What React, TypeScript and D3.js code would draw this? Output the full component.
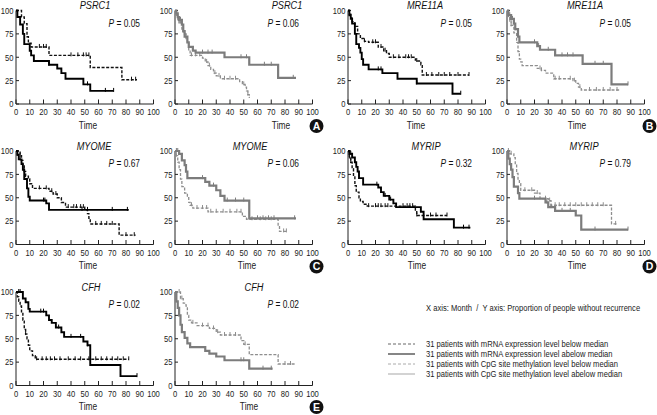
import React from "react";
import * as d3 from "d3";

type Pt = [number, number];

// ---------- DATA ----------
const genes = ["PSRC1", "PSRC1", "MRE11A", "MRE11A", "MYOME", "MYOME", "MYRIP", "MYRIP", "CFH", "CFH"];
const pValues = ["0.05", "0.06", "0.05", "0.05", "0.67", "0.06", "0.32", "0.79", "0.02", "0.02"];
const panelKinds = ["mrna", "meth", "mrna", "meth", "mrna", "meth", "mrna", "meth", "mrna", "meth"];
const panelLetters = ["A", "B", "C", "D", "E"];
const xTicks = [0, 10, 20, 30, 40, 50, 60, 70, 80, 90, 100];
const yTicks = [0, 25, 50, 75, 100];
const axisLabel = "Time";
const legendHeader = "X axis: Month  /  Y axis: Proportion of people without recurrence";
const legendLabels = [
  "31 patients with mRNA expression level below median",
  "31 patients with mRNA expression level abelow median",
  "31 patients with CpG site methylation level below median",
  "31 patients with CpG site methylation level abelow median",
];

// PSRC1 mRNA
const psrc1MrnaLow: Pt[] = [[0,100],[4,93],[6,86],[8,72],[9,65],[11,61],[24,52],[54,39],[77,26],[88,26]];
const psrc1MrnaLowCens = [17, 20, 22, 40, 45, 49, 51, 53, 84, 87];
const psrc1MrnaHigh: Pt[] = [[0,100],[1,93],[3,85],[5,75],[6,64],[10,57],[11,52],[13,46],[24,42],[30,38],[33,33],[36,27],[49,21],[54,14],[71,14]];
const psrc1MrnaHighCens = [24, 52, 65, 71];
// PSRC1 methylation
const psrc1MethLow: Pt[] = [[0,100],[1,95],[2,90],[3,87],[5,80],[6,75],[8,70],[9,65],[10,58],[11,52],[20,49],[22,45],[24,41],[26,37],[28,33],[30,30],[33,27],[47,24],[49,21],[51,18],[52,14],[53,10],[54,7],[54.5,7]];
const psrc1MethLowCens = [1, 3, 4, 7, 12, 15, 18, 23, 25, 29, 32, 36, 40, 44, 50, 53];
const psrc1MethHigh: Pt[] = [[0,100],[1,97],[2,93],[3,90],[5,85],[6,78],[7,72],[9,66],[10,61],[13,57],[15,55],[36,50],[54,42],[75,28],[88,28]];
const psrc1MethHighCens = [2, 4, 6, 8, 20, 24, 27, 48, 52, 65, 70, 86];
// MRE11A mRNA
const mre11aMrnaLow: Pt[] = [[0,100],[1,96],[2,92],[3,88],[5,83],[7,75],[9,70],[12,67],[15,66],[22,61],[26,57],[28,54],[30,50],[49,47],[50,46],[53,42],[54,31],[88,31]];
const mre11aMrnaLowCens = [12, 18, 20, 24, 27, 33, 37, 42, 44, 46, 50, 57, 61, 66, 70, 74, 80, 88];
const mre11aMrnaHigh: Pt[] = [[0,100],[1,95],[2,91],[3,86],[5,75],[6,64],[8,60],[9,55],[10,48],[11,42],[15,37],[25,33],[36,27],[50,22],[76,11],[82,11]];
const mre11aMrnaHighCens = [22, 24, 50, 82];
// MRE11A methylation
const mre11aMethLow: Pt[] = [[0,100],[1,94],[2,89],[3,84],[5,76],[7,66],[8,56],[9,48],[10,45],[11,41],[22,38],[25,36],[28,33],[34,27],[48,25],[50,22],[52,18],[54,15],[82,15]];
const mre11aMethLowCens = [1, 2, 3, 24, 25, 35, 38, 46, 49, 53, 60, 65, 70, 75, 80];
const mre11aMethHigh: Pt[] = [[0,100],[1,95],[3,91],[5,86],[6,80],[8,72],[9,66],[22,62],[24,58],[35,52],[55,43],[76,21],[88,21]];
const mre11aMethHighCens = [1, 2, 4, 6, 20, 23, 30, 40, 44, 48, 64, 70, 88];
// MYOME mRNA
const myomeMrnaLow: Pt[] = [[0,100],[3,95],[4,90],[5,84],[6,78],[7,73],[9,70],[10,65],[12,60],[24,57],[27,54],[30,50],[33,45],[36,40],[50,37],[52,33],[53,28],[54,22],[75,10],[87,10]];
const myomeMrnaLowCens = [3, 17, 22, 26, 29, 38, 42, 44, 47, 49, 58, 62, 66, 70, 80, 86];
const myomeMrnaHigh: Pt[] = [[0,100],[1,96],[2,91],[4,86],[5,80],[6,70],[8,60],[9,51],[10,47],[22,44],[24,37],[82,37]];
const myomeMrnaHighCens = [1, 3, 20, 21, 48, 52, 70, 81];
// MYOME methylation
const myomeMethLow: Pt[] = [[0,100],[1,95],[2,88],[3,80],[4,70],[5,62],[7,55],[9,50],[10,45],[11,42],[13,39],[24,35],[49,30],[52,27],[75,20],[76,14],[81,14]];
const myomeMethLowCens = [1, 12, 16, 20, 23, 26, 30, 35, 40, 45, 48, 56, 62, 66, 70, 79, 81];
const myomeMethHigh: Pt[] = [[0,100],[3,97],[5,90],[7,85],[8,78],[9,71],[22,67],[25,63],[30,58],[33,52],[36,47],[54,28],[88,28]];
const myomeMethHighCens = [1, 2, 20, 28, 38, 44, 50, 60, 64, 68, 72, 87];
// MYRIP mRNA
const myripMrnaLow: Pt[] = [[0,100],[1,93],[2,88],[3,81],[4,73],[5,63],[6,56],[8,50],[9,46],[11,43],[14,41],[49,36],[50,31],[72,31]];
const myripMrnaLowCens = [1, 2, 15, 20, 22, 24, 27, 29, 40, 43, 45, 47, 50, 60, 64, 72];
const myripMrnaHigh: Pt[] = [[0,100],[1,97],[3,93],[5,88],[6,83],[7,78],[8,71],[11,64],[22,61],[24,56],[26,52],[30,48],[33,44],[35,40],[53,35],[55,27],[77,18],[89,18]];
const myripMrnaHighCens = [1, 2, 21, 27, 31, 84, 88];
// MYRIP methylation
const myripMethLow: Pt[] = [[0,100],[2,97],[5,93],[6,85],[7,76],[8,70],[9,65],[10,58],[20,55],[24,49],[30,47],[32,42],[76,22],[80,22]];
const myripMethLowCens = [1, 3, 13, 18, 22, 28, 31, 35, 38, 42, 46, 50, 54, 58, 62, 66, 70, 79];
const myripMethHigh: Pt[] = [[0,100],[1,92],[2,86],[3,80],[4,72],[5,62],[8,55],[9,49],[28,45],[30,40],[35,36],[50,31],[54,16],[88,16]];
const myripMethHighCens = [1, 20, 29, 32, 40, 46, 64, 88];
// CFH mRNA
const cfhMrnaLow: Pt[] = [[0,100],[1,95],[2,90],[3,85],[4,78],[5,70],[6,60],[7,55],[8,50],[9,43],[10,37],[12,32],[14,28],[82,28]];
const cfhMrnaLowCens = [7, 15, 19, 22, 25, 28, 32, 38, 43, 47, 53, 58, 62, 66, 70, 74, 78, 82];
const cfhMrnaHigh: Pt[] = [[0,100],[5,93],[7,89],[9,82],[10,79],[22,75],[24,70],[26,67],[29,62],[33,57],[35,52],[49,47],[52,43],[54,22],[76,10],[88,10]];
const cfhMrnaHighCens = [2, 3, 18, 20, 31, 40, 47, 52, 88];
// CFH methylation
const cfhMethLow: Pt[] = [[0,100],[4,93],[6,88],[8,85],[9,75],[10,70],[12,67],[16,64],[25,61],[30,57],[33,54],[48,48],[50,44],[54,33],[75,23],[88,23]];
const cfhMethLowCens = [3, 5, 13, 20, 24, 28, 31, 36, 40, 44, 51, 80, 84];
const cfhMethHigh: Pt[] = [[0,100],[1,90],[2,83],[3,75],[4,65],[5,57],[7,51],[9,45],[11,41],[22,37],[25,34],[30,31],[36,27],[54,18],[71,18]];
const cfhMethHighCens = [1, 48, 50, 64, 70];

const lowCurves = [psrc1MrnaLow, psrc1MethLow, mre11aMrnaLow, mre11aMethLow, myomeMrnaLow, myomeMethLow, myripMrnaLow, myripMethLow, cfhMrnaLow, cfhMethLow];
const lowCens = [psrc1MrnaLowCens, psrc1MethLowCens, mre11aMrnaLowCens, mre11aMethLowCens, myomeMrnaLowCens, myomeMethLowCens, myripMrnaLowCens, myripMethLowCens, cfhMrnaLowCens, cfhMethLowCens];
const highCurves = [psrc1MrnaHigh, psrc1MethHigh, mre11aMrnaHigh, mre11aMethHigh, myomeMrnaHigh, myomeMethHigh, myripMrnaHigh, myripMethHigh, cfhMrnaHigh, cfhMethHigh];
const highCens = [psrc1MrnaHighCens, psrc1MethHighCens, mre11aMrnaHighCens, mre11aMethHighCens, myomeMrnaHighCens, myomeMethHighCens, myripMrnaHighCens, myripMethHighCens, cfhMrnaHighCens, cfhMethHighCens];

// ---------- LAYOUT ----------
const W = 657;
const H = 415;
const colX = [16, 175, 348, 507];
const rowTop = [10.5, 151, 292];
const plotW = 137.5;
const plotH = 93.5;
const titleDx = [79, 112, 77, 78, 78, 75, 78, 77, 75, 79];
const timeDx = [72, 106, 68, 70, 72, 72, 69, 70, 72, 74];
const letterPos: Pt[] = [[316.5, 126], [649.5, 126], [316.5, 266.5], [649.5, 266.5], [316.5, 407]];
const FONT = "'Liberation Sans', Arial, sans-serif";
const NARROW = 0.8;

const styles: Record<string, { low: any; high: any }> = {
  mrna: {
    low: { stroke: "#111", width: 1.4, dash: "3,1.6" },
    high: { stroke: "#000", width: 1.9, dash: null },
  },
  meth: {
    low: { stroke: "#8e8e8e", width: 1.3, dash: "3,1.6" },
    high: { stroke: "#7c7c7c", width: 2.2, dash: null },
  },
};

const legendStyles = [
  { stroke: "#666", width: 1, dash: "3,2" },
  { stroke: "#444", width: 1.3, dash: null },
  { stroke: "#aaa", width: 1, dash: "3,2" },
  { stroke: "#bbb", width: 1.3, dash: null },
];

function survAt(curve: Pt[], t: number): number {
  let s = curve[0][1];
  for (const p of curve) if (p[0] <= t) s = p[1];
  return s;
}

function NText(props: {
  x: number;
  y: number;
  size: number;
  anchor?: string;
  italic?: boolean;
  fill?: string;
  children: React.ReactNode;
}) {
  return (
    <g transform={`translate(${props.x},${props.y}) scale(${NARROW},1)`}>
      <text
        x={0}
        y={0}
        fontSize={props.size}
        textAnchor={props.anchor || "start"}
        fontStyle={props.italic ? "italic" : "normal"}
        fontFamily={FONT}
        fill={props.fill || "#222"}
        style={{ whiteSpace: "pre" }}
      >
        {props.children}
      </text>
    </g>
  );
}

function Panel({ i }: { i: number }) {
  const col = i % 4;
  const row = Math.floor(i / 4);
  const x0 = colX[col];
  const y0 = rowTop[row];
  const x = d3.scaleLinear().domain([0, 100]).range([0, plotW]);
  const y = d3.scaleLinear().domain([0, 100]).range([plotH, 0]);
  const line = d3
    .line<Pt>()
    .x((d) => x(d[0]))
    .y((d) => y(d[1]))
    .curve(d3.curveStepAfter);
  const st = styles[panelKinds[i]];
  const curves = [
    { data: lowCurves[i], cens: lowCens[i], s: st.low },
    { data: highCurves[i], cens: highCens[i], s: st.high },
  ];
  return (
    <g transform={`translate(${x0},${y0})`}>
      <line x1={0} y1={0} x2={0} y2={plotH} stroke="#222" strokeWidth={1} />
      <line x1={0} y1={plotH} x2={plotW} y2={plotH} stroke="#222" strokeWidth={1} />
      {xTicks.map((t) => (
        <g key={"xt" + t}>
          <line x1={x(t)} x2={x(t)} y1={plotH} y2={plotH - 4.5} stroke="#222" strokeWidth={1} />
          <NText x={x(t)} y={plotH + 11} size={9.5} anchor="middle">
            {t}
          </NText>
        </g>
      ))}
      {yTicks.map((t) => (
        <g key={"yt" + t}>
          <line x1={0} x2={3} y1={y(t)} y2={y(t)} stroke="#222" strokeWidth={1} />
          <NText x={-2.5} y={y(t) + 3.3} size={9.5} anchor="end">
            {t}
          </NText>
        </g>
      ))}
      <NText x={timeDx[i]} y={plotH + 24.5} size={10.5} anchor="middle">
        {axisLabel}
      </NText>
      <NText x={titleDx[i]} y={-1.5} size={11.5} anchor="middle" italic fill="#111">
        {genes[i]}
      </NText>
      <g transform={`translate(124,16) scale(${NARROW},1)`}>
        <text x={0} y={0} fontSize={10.5} textAnchor="end" fontFamily={FONT} fill="#111">
          <tspan fontStyle="italic">P</tspan> = {pValues[i]}
        </text>
      </g>
      {curves.map((c, k) => (
        <g key={"c" + k}>
          <path
            d={line(c.data) || ""}
            fill="none"
            stroke={c.s.stroke}
            strokeWidth={c.s.width}
            strokeDasharray={c.s.dash || undefined}
          />
          {c.cens.map((t, j) => {
            const s = survAt(c.data, t);
            return (
              <line
                key={j}
                x1={x(t)}
                x2={x(t)}
                y1={y(s) - 3}
                y2={y(s) + 1}
                stroke={c.s.stroke}
                strokeWidth={1}
              />
            );
          })}
        </g>
      ))}
    </g>
  );
}

export default function App() {
  return (
    <svg
      width={W}
      height={H}
      viewBox={`0 0 ${W} ${H}`}
      style={{ position: "absolute", left: 0, top: 0, background: "#fff" }}
    >
      <rect x={0} y={0} width={W} height={H} fill="#fff" />
      {genes.map((_, i) => (
        <Panel key={i} i={i} />
      ))}
      {panelLetters.map((L, k) => (
        <g key={L} transform={`translate(${letterPos[k][0]},${letterPos[k][1]})`}>
          <circle r={7} fill="#111" />
          <text y={3.8} fontSize={10.5} fontWeight="bold" textAnchor="middle" fontFamily={FONT} fill="#fff">
            {L}
          </text>
        </g>
      ))}
      <NText x={426} y={311} size={9.5}>
        {legendHeader}
      </NText>
      {legendLabels.map((lab, k) => {
        const yy = 344 + k * 10;
        const s = legendStyles[k];
        return (
          <g key={k}>
            <line x1={388} x2={415} y1={yy} y2={yy} stroke={s.stroke} strokeWidth={s.width} strokeDasharray={s.dash || undefined} />
            <NText x={426} y={yy + 3.3} size={9.5}>
              {lab}
            </NText>
          </g>
        );
      })}
    </svg>
  );
}
